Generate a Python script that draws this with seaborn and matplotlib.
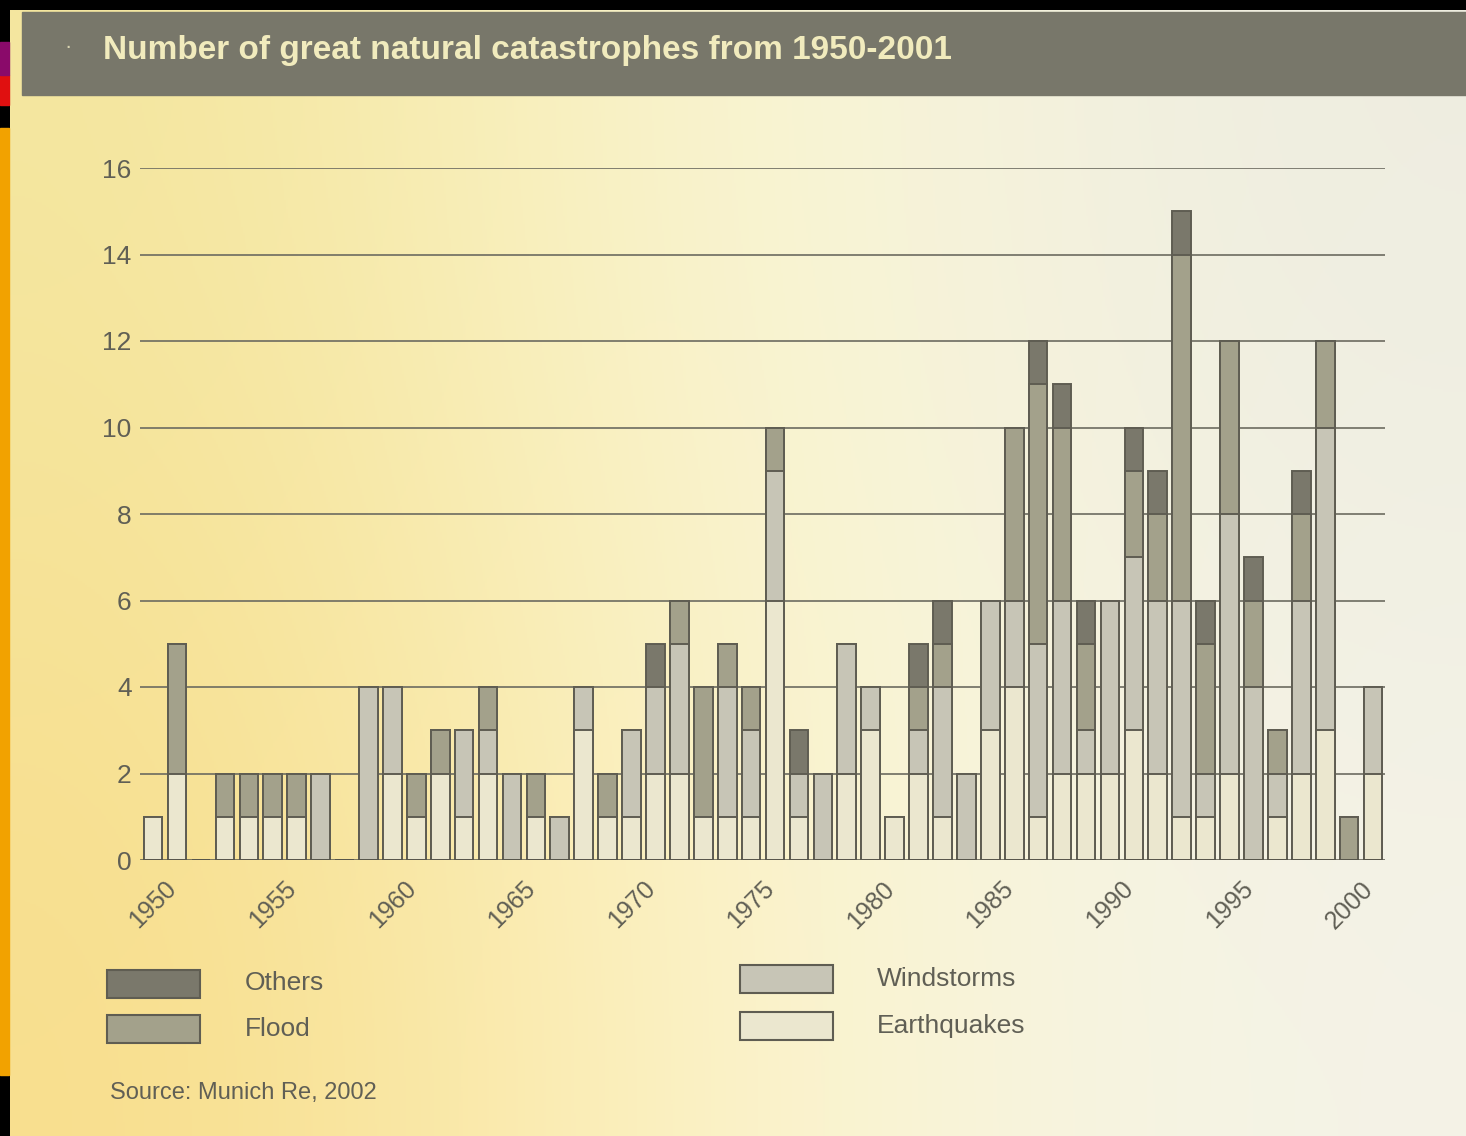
import numpy as np
import pandas as pd
import seaborn as sns
import matplotlib.pyplot as plt
from matplotlib.patches import Rectangle

# values (number of events per year)
years = [str(y) for y in range(1950, 2002)]
earthquakes = [1, 2, 0, 1, 1, 1, 1, 0, 0, 0,
               2, 1, 2, 1, 2, 0, 1, 0, 3, 1,
               1, 2, 2, 1, 1, 1, 6, 1, 0, 2,
               3, 1, 2, 1, 0, 3, 4, 1, 2, 2,
               2, 3, 2, 1, 1, 2, 0, 1, 2, 3,
               0, 2]
windstorms = [0, 0, 0, 0, 0, 0, 0, 2, 0, 4,
              2, 0, 0, 2, 1, 2, 0, 1, 1, 0,
              2, 2, 3, 0, 3, 2, 3, 1, 2, 3,
              1, 0, 1, 3, 2, 3, 2, 4, 4, 1,
              4, 4, 4, 5, 1, 6, 4, 1, 4, 7,
              0, 2]
floods = [0, 3, 0, 1, 1, 1, 1, 0, 0, 0,
          0, 1, 1, 0, 1, 0, 1, 0, 0, 1,
          0, 0, 1, 3, 1, 1, 1, 0, 0, 0,
          0, 0, 1, 1, 0, 0, 4, 6, 4, 2,
          0, 2, 2, 8, 3, 4, 2, 1, 2, 2,
          1, 0]
others = [0, 0, 0, 0, 0, 0, 0, 0, 0, 0,
          0, 0, 0, 0, 0, 0, 0, 0, 0, 0,
          0, 1, 0, 0, 0, 0, 0, 1, 0, 0,
          0, 0, 1, 1, 0, 0, 0, 1, 1, 1,
          0, 1, 1, 1, 1, 0, 1, 0, 1, 0,
          0, 0]
y_ticks = list(range(0, 17, 2))
x_tick_years = years[::5]

colors = {"Others": "#7a786b", "Flood": "#a3a18b",
          "Windstorms": "#c7c5b6", "Earthquakes": "#ebe7cf"}
edge = "#5f5d52"
text_grey = "#605f55"

sns.set_theme(style="white")
plt.rcParams['font.family'] = ['Liberation Sans', 'DejaVu Sans']

df = pd.DataFrame({"year": years, "Earthquakes": earthquakes,
                   "Windstorms": windstorms, "Flood": floods, "Others": others})
df["c_eq"] = df["Earthquakes"]
df["c_ws"] = df["c_eq"] + df["Windstorms"]
df["c_fl"] = df["c_ws"] + df["Flood"]
df["c_ot"] = df["c_fl"] + df["Others"]

W, H = 1466, 1136
fig = plt.figure(figsize=(W / 100, H / 100), dpi=100, facecolor="black")

# paper background
bg = fig.add_axes([10 / W, 0, 1 - 10 / W, 1 - 10 / H])
grad = np.array([[(244, 230, 158), (252, 248, 215), (238, 237, 225)],
                 [(248, 222, 140), (253, 246, 205), (244, 243, 232)]]) / 255
bg.imshow(grad, aspect="auto", interpolation="bicubic", extent=[0, 1, 0, 1])
bg.axis("off")

# left slide strip
fig.add_artist(Rectangle((0, 1 - 1075 / H), 9 / W, (1075 - 128) / H,
                         transform=fig.transFigure, color="#f2a200"))
fig.add_artist(Rectangle((0, 1 - 105 / H), 9 / W, 30 / H,
                         transform=fig.transFigure, color="#e01010"))
fig.add_artist(Rectangle((0, 1 - 75 / H), 9 / W, 33 / H,
                         transform=fig.transFigure, color="#8a0a6a"))

# title band
fig.add_artist(Rectangle((22 / W, 1 - 95 / H), 1, 83 / H,
                         transform=fig.transFigure, color="#78776a"))
fig.text(103 / W, 1 - 50 / H, "Number of great natural catastrophes from 1950-2001",
         color="#f1ebbd", fontsize=24, fontweight="bold", va="center", ha="left")
fig.text(64 / W, 1 - 48 / H, "·", color="#d8d4b0", fontsize=16, va="center")

# chart
ax = fig.add_axes([140 / W, 1 - 860 / H, (1385 - 140) / W, (860 - 168) / H])
ax.patch.set_alpha(0)
for v in y_ticks[1:]:
    ax.axhline(v, color="#6c6b60", lw=1.2, zorder=1)

for col, cat in [("c_ot", "Others"), ("c_fl", "Flood"),
                 ("c_ws", "Windstorms"), ("c_eq", "Earthquakes")]:
    sns.barplot(data=df, x="year", y=col, order=years, color=colors[cat],
                saturation=1, width=0.78, edgecolor=edge, linewidth=1.4,
                errorbar=None, ax=ax, zorder=3)
ax.axhline(0, color="#55544a", lw=1.8, zorder=4)

ax.set_xlim(-0.55, 51.45)
ax.set_ylim(0, 16)
sns.despine(ax=ax, left=True, bottom=True)
ax.set_xlabel("")
ax.set_ylabel("")
ax.set_yticks(y_ticks)
ax.set_yticklabels([str(v) for v in y_ticks], fontsize=19, color=text_grey)
ax.tick_params(axis="y", length=0, pad=6)
ax.set_xticks([years.index(y) for y in x_tick_years])
ax.set_xticklabels(x_tick_years, rotation=45, ha="center", fontsize=18, color=text_grey)
ax.set_xticks(np.arange(-0.5, 52, 1), minor=True)
ax.tick_params(axis="x", which="major", length=0, pad=12)
ax.tick_params(axis="x", which="minor", length=5, width=1, color="#77766a", direction="out")
ax.grid(False)

# legend
legend_items = [("Others", 107, 970, 245, 983), ("Flood", 107, 1015, 245, 1029),
                ("Windstorms", 740, 965, 877, 979), ("Earthquakes", 740, 1012, 877, 1026)]
for name, px, py, tx, ty in legend_items:
    fig.add_artist(Rectangle((px / W, 1 - (py + 28) / H), 93 / W, 28 / H,
                             transform=fig.transFigure, facecolor=colors[name],
                             edgecolor=edge, linewidth=1.5))
    fig.text(tx / W, 1 - ty / H, name, fontsize=19, color=text_grey, va="center", ha="left")

fig.text(110 / W, 1 - 1093 / H, "Source: Munich Re, 2002", fontsize=17,
         color=text_grey, va="center", ha="left")

fig.savefig("out.png", dpi=100, facecolor=fig.get_facecolor())
